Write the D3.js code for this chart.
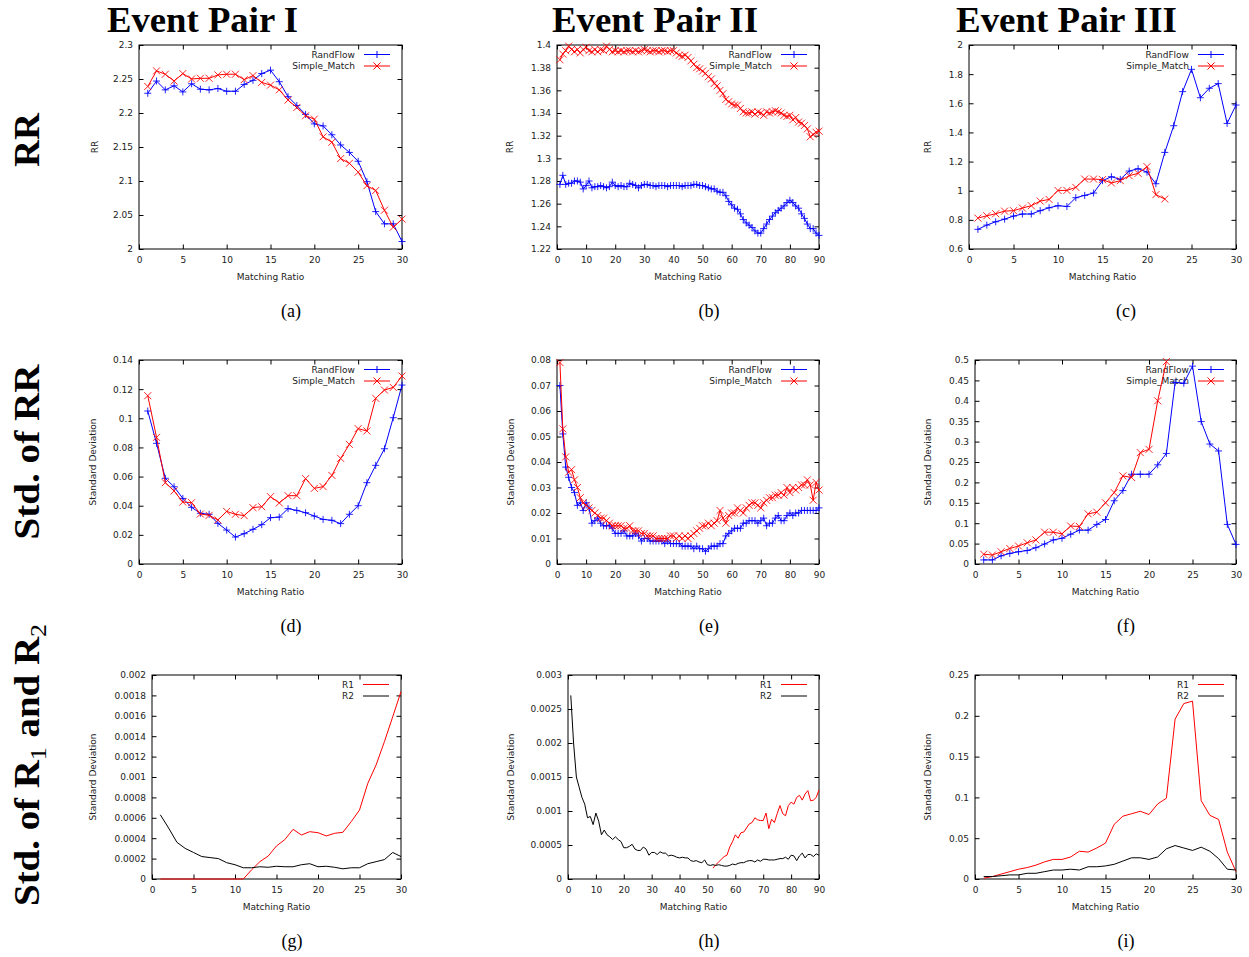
<!DOCTYPE html>
<html>
<head>
<meta charset="utf-8">
<script src="https://cdn.jsdelivr.net/npm/d3@7"></script>
<style>
  body { margin: 0; background: #fff; }
</style>
</head>
<body>
<div id="container"></div>
<script>
/* DATA */

// matching ratios (x values)
const ratio30 = d3.range(1, 31)
const ratio22 = d3.range(1, 23)
const ratio90 = d3.range(1, 91)
const ratio52to90 = d3.range(52, 91)

// RR, Event Pair I
const rrRandFlowI = [2.229, 2.247, 2.234, 2.240, 2.231, 2.243, 2.235, 2.234, 2.236, 2.232,
  2.232, 2.242, 2.248, 2.258, 2.263, 2.246, 2.224, 2.211, 2.198, 2.184,
  2.181, 2.168, 2.153, 2.142, 2.129, 2.099, 2.055, 2.037, 2.037, 2.011]
const rrSimpleI = [2.239, 2.262, 2.257, 2.247, 2.258, 2.250, 2.251, 2.251, 2.256, 2.257,
  2.257, 2.249, 2.255, 2.245, 2.241, 2.234, 2.219, 2.208, 2.196, 2.191,
  2.165, 2.157, 2.133, 2.126, 2.113, 2.093, 2.086, 2.057, 2.032, 2.044]

// RR, Event Pair II
const rrRandFlowII = [1.277, 1.285, 1.277, 1.278, 1.278, 1.280, 1.280, 1.279, 1.273, 1.276,
  1.280, 1.274, 1.275, 1.275, 1.276, 1.275, 1.274, 1.275, 1.279, 1.276,
  1.275, 1.276, 1.275, 1.275, 1.278, 1.277, 1.276, 1.274, 1.276, 1.277,
  1.277, 1.276, 1.276, 1.275, 1.276, 1.276, 1.276, 1.275, 1.276, 1.276,
  1.276, 1.276, 1.275, 1.276, 1.276, 1.276, 1.277, 1.277, 1.276, 1.276,
  1.275, 1.274, 1.273, 1.273, 1.271, 1.270, 1.270, 1.267, 1.262, 1.259,
  1.256, 1.255, 1.251, 1.246, 1.243, 1.241, 1.239, 1.236, 1.234, 1.234,
  1.238, 1.242, 1.246, 1.249, 1.252, 1.254, 1.256, 1.258, 1.261, 1.263,
  1.261, 1.258, 1.256, 1.251, 1.247, 1.242, 1.238, 1.238, 1.234, 1.232]
const rrSimpleII = [1.387, 1.392, 1.395, 1.399, 1.396, 1.394, 1.396, 1.393, 1.396, 1.398,
  1.395, 1.394, 1.396, 1.394, 1.396, 1.395, 1.399, 1.396, 1.394, 1.395,
  1.394, 1.395, 1.394, 1.395, 1.395, 1.394, 1.395, 1.394, 1.395, 1.396,
  1.395, 1.394, 1.395, 1.395, 1.394, 1.395, 1.395, 1.394, 1.395, 1.395,
  1.393, 1.391, 1.390, 1.391, 1.389, 1.386, 1.383, 1.380, 1.379, 1.377,
  1.375, 1.372, 1.370, 1.366, 1.364, 1.360, 1.357, 1.352, 1.350, 1.348,
  1.347, 1.347, 1.344, 1.341, 1.340, 1.340, 1.341, 1.339, 1.341, 1.340,
  1.338, 1.341, 1.340, 1.341, 1.342, 1.341, 1.340, 1.338, 1.337, 1.338,
  1.334, 1.336, 1.332, 1.331, 1.329, 1.326, 1.319, 1.321, 1.323, 1.324]

// RR, Event Pair III
const rrRandFlowIII = [0.735, 0.764, 0.787, 0.805, 0.826, 0.840, 0.840, 0.863, 0.883, 0.897,
  0.892, 0.952, 0.968, 0.984, 1.069, 1.096, 1.078, 1.135, 1.151, 1.128,
  1.048, 1.263, 1.446, 1.680, 1.833, 1.638, 1.703, 1.735, 1.462, 1.588]
const rrSimpleIII = [0.812, 0.828, 0.842, 0.860, 0.863, 0.881, 0.897, 0.929, 0.940, 1.002,
  1.002, 1.023, 1.080, 1.080, 1.076, 1.053, 1.069, 1.103, 1.119, 1.165,
  0.973, 0.943]

// Std. of RR, Event Pair I
const sdRandFlowI = [0.105, 0.0828, 0.0588, 0.053, 0.045, 0.0389, 0.0348, 0.0341, 0.0279, 0.0233,
  0.0185, 0.0208, 0.0238, 0.027, 0.0318, 0.0322, 0.038, 0.0368, 0.0352, 0.0329,
  0.0306, 0.030, 0.0277, 0.0341, 0.040, 0.0558, 0.0677, 0.0791, 0.1004, 0.1228]
const sdSimpleI = [0.1155, 0.0869, 0.0558, 0.0501, 0.0425, 0.0421, 0.0343, 0.0334, 0.0302, 0.0361,
  0.0341, 0.0332, 0.0387, 0.0393, 0.0462, 0.0419, 0.0469, 0.0469, 0.0586, 0.0519,
  0.0531, 0.0608, 0.0725, 0.0821, 0.0929, 0.0913, 0.1137, 0.1194, 0.1212, 0.129]

// Std. of RR, Event Pair II
const sdRandFlowII = [0.070, 0.051, 0.038, 0.034, 0.030, 0.028, 0.023, 0.024, 0.021, 0.024,
  0.022, 0.016, 0.017, 0.018, 0.016, 0.015, 0.015, 0.015, 0.014, 0.012,
  0.012, 0.012, 0.013, 0.011, 0.011, 0.011, 0.012, 0.011, 0.009, 0.010,
  0.010, 0.009, 0.009, 0.009, 0.009, 0.009, 0.008, 0.009, 0.008, 0.008,
  0.008, 0.008, 0.007, 0.007, 0.007, 0.007, 0.006, 0.007, 0.006, 0.006,
  0.005, 0.006, 0.007, 0.007, 0.007, 0.008, 0.008, 0.011, 0.012, 0.013,
  0.014, 0.014, 0.014, 0.016, 0.016, 0.017, 0.017, 0.017, 0.016, 0.017,
  0.018, 0.015, 0.016, 0.016, 0.018, 0.019, 0.017, 0.017, 0.019, 0.020,
  0.019, 0.020, 0.020, 0.021, 0.021, 0.021, 0.021, 0.021, 0.021, 0.022]
const sdSimpleII = [0.079, 0.053, 0.042, 0.036, 0.037, 0.033, 0.030, 0.026, 0.024, 0.023,
  0.022, 0.021, 0.020, 0.019, 0.018, 0.018, 0.017, 0.016, 0.015, 0.015,
  0.015, 0.015, 0.014, 0.014, 0.015, 0.013, 0.013, 0.013, 0.012, 0.012,
  0.011, 0.011, 0.011, 0.010, 0.010, 0.010, 0.010, 0.010, 0.011, 0.011,
  0.010, 0.011, 0.010, 0.011, 0.010, 0.011, 0.012, 0.013, 0.014, 0.015,
  0.015, 0.016, 0.015, 0.016, 0.017, 0.021, 0.018, 0.016, 0.019, 0.020,
  0.020, 0.022, 0.021, 0.020, 0.022, 0.023, 0.024, 0.024, 0.023, 0.022,
  0.024, 0.025, 0.026, 0.026, 0.027, 0.027, 0.028, 0.027, 0.030, 0.028,
  0.030, 0.029, 0.030, 0.031, 0.031, 0.033, 0.031, 0.025, 0.032, 0.029]

// Std. of RR, Event Pair III
const sdRandFlowIII = [0.010, 0.010, 0.020, 0.026, 0.030, 0.033, 0.040, 0.049, 0.059, 0.063,
  0.073, 0.083, 0.083, 0.097, 0.109, 0.155, 0.180, 0.220, 0.220, 0.220,
  0.243, 0.271, 0.445, 0.443, 0.485, 0.349, 0.294, 0.277, 0.097, 0.048]
const sdSimpleIII = [0.024, 0.022, 0.030, 0.038, 0.044, 0.052, 0.059, 0.078, 0.078, 0.074,
  0.093, 0.092, 0.123, 0.127, 0.150, 0.175, 0.216, 0.212, 0.273, 0.281,
  0.400, 0.496]

// Std. of R1 and R2, Event Pair I
const r1I = [0, 0, 0, 0, 0, 0, 0, 0, 0, 0,
  0, 0.00009, 0.00017, 0.000225, 0.000324, 0.000386, 0.000487, 0.000431, 0.000464, 0.000454,
  0.000422, 0.000448, 0.000458, 0.000562, 0.000676, 0.000938, 0.001118, 0.001346, 0.00159, 0.001837]
const r2I = [0.00063, 0.0005, 0.00036, 0.0003, 0.00026, 0.00022, 0.00021, 0.0002, 0.00016, 0.00014,
  0.00011, 0.00011, 0.00012, 0.000115, 0.000125, 0.00012, 0.00012, 0.00014, 0.00015, 0.00012,
  0.000125, 0.000115, 0.0001, 0.00011, 0.00011, 0.00015, 0.00017, 0.00019, 0.00026, 0.00022]

// Std. of R1 and R2, Event Pair II
const r1II = [0.00016, 0.00021, 0.00025, 0.00029, 0.00033, 0.00035, 0.00047, 0.00055, 0.00065, 0.0006,
  0.00068, 0.00069, 0.00075, 0.00081, 0.00083, 0.0009, 0.00087, 0.00086, 0.00086, 0.00097,
  0.00074, 0.00088, 0.00083, 0.00096, 0.00108, 0.00096, 0.00093, 0.00108, 0.00113, 0.0011,
  0.0012, 0.00123, 0.00116, 0.00125, 0.0013, 0.00115, 0.00116, 0.0012, 0.00131]
const r2II = [0.0027, 0.0020, 0.0015, 0.00135, 0.0012, 0.0011, 0.0009, 0.00092, 0.0008, 0.00097,
  0.00085, 0.00065, 0.00072, 0.00065, 0.00062, 0.00058, 0.00062, 0.00058, 0.00055, 0.00046,
  0.00046, 0.00048, 0.00051, 0.00044, 0.00042, 0.00042, 0.00047, 0.00044, 0.00035, 0.00039,
  0.00039, 0.00036, 0.0004, 0.00038, 0.00038, 0.00034, 0.00035, 0.00034, 0.00032, 0.00031,
  0.00032, 0.00031, 0.00031, 0.00027, 0.00026, 0.00027, 0.00025, 0.00024, 0.00028, 0.00021,
  0.0002, 0.00021, 0.0002, 0.00021, 0.0002, 0.00019, 0.00019, 0.0002, 0.00022, 0.00021,
  0.00023, 0.00024, 0.00024, 0.00026, 0.00027, 0.00027, 0.00025, 0.00028, 0.00026, 0.00029,
  0.00029, 0.00028, 0.00028, 0.00028, 0.00029, 0.0003, 0.0003, 0.00032, 0.00029, 0.00035,
  0.00034, 0.00027, 0.00034, 0.00038, 0.00031, 0.00036, 0.00036, 0.00033, 0.00037, 0.00035]

// Std. of R1 and R2, Event Pair III
const r1III = [0.001, 0.003, 0.006, 0.009, 0.012, 0.014, 0.017, 0.021, 0.024, 0.024,
  0.027, 0.034, 0.033, 0.038, 0.044, 0.067, 0.077, 0.080, 0.083, 0.079,
  0.092, 0.099, 0.196, 0.215, 0.218, 0.096, 0.078, 0.073, 0.033, 0.009]
const r2III = [0.003, 0.003, 0.004, 0.005, 0.005, 0.007, 0.007, 0.009, 0.011, 0.011,
  0.012, 0.011, 0.015, 0.015, 0.016, 0.018, 0.022, 0.026, 0.026, 0.024,
  0.027, 0.037, 0.041, 0.038, 0.035, 0.039, 0.034, 0.025, 0.012, 0.011]

// tick values
const xTicks30 = [0, 5, 10, 15, 20, 25, 30]
const xTicks90 = [0, 10, 20, 30, 40, 50, 60, 70, 80, 90]
const rrTicksI = [2, 2.05, 2.1, 2.15, 2.2, 2.25, 2.3]
const rrTicksII = [1.22, 1.24, 1.26, 1.28, 1.3, 1.32, 1.34, 1.36, 1.38, 1.4]
const rrTicksIII = [0.6, 0.8, 1, 1.2, 1.4, 1.6, 1.8, 2]
const sdTicksI = [0, 0.02, 0.04, 0.06, 0.08, 0.1, 0.12, 0.14]
const sdTicksII = [0, 0.01, 0.02, 0.03, 0.04, 0.05, 0.06, 0.07, 0.08]
const sdTicksIII = [0, 0.05, 0.1, 0.15, 0.2, 0.25, 0.3, 0.35, 0.4, 0.45, 0.5]
const rTicksI = [0, 0.0002, 0.0004, 0.0006, 0.0008, 0.001, 0.0012, 0.0014, 0.0016, 0.0018, 0.002]
const rTicksII = [0, 0.0005, 0.001, 0.0015, 0.002, 0.0025, 0.003]
const rTicksIII = [0, 0.05, 0.1, 0.15, 0.2, 0.25]

// titles / labels
const columnTitles = ["Event Pair I", "Event Pair II", "Event Pair III"]
const captions = ["(a)", "(b)", "(c)", "(d)", "(e)", "(f)", "(g)", "(h)", "(i)"]

/* CONSTANTS */
const width = 1249, height = 957
const BLUE = "#0000ff", RED = "#ff0000", BLACK = "#000000"
const sans = "'DejaVu Sans', sans-serif"
const serif = "'Liberation Serif', 'Times New Roman', serif"

const rf = (x, y) => ({ name: "RandFlow", x, y, color: BLUE, marker: "plus" })
const sm = (x, y) => ({ name: "Simple_Match", x, y, color: RED, marker: "cross" })
const rA = (x, y) => ({ name: "R1", x, y, color: RED, marker: null })
const rB = (x, y) => ({ name: "R2", x, y, color: BLACK, marker: null })

// plot rectangles in page pixels
const panels = [
  { box: [139, 45, 402, 249], lx: 95, cx: 291, cy: 317, xd: [0, 30], xt: xTicks30, yd: [2, 2.3], yt: rrTicksI, yl: "RR",
    series: [rf(ratio30, rrRandFlowI), sm(ratio30, rrSimpleI)] },
  { box: [557, 45, 819, 249], lx: 510, cx: 709, cy: 317, xd: [0, 90], xt: xTicks90, yd: [1.22, 1.4], yt: rrTicksII, yl: "RR",
    series: [rf(ratio90, rrRandFlowII), sm(ratio90, rrSimpleII)] },
  { box: [969, 45, 1236, 249], lx: 928, cx: 1126, cy: 317, xd: [0, 30], xt: xTicks30, yd: [0.6, 2], yt: rrTicksIII, yl: "RR",
    series: [rf(ratio30, rrRandFlowIII), sm(ratio22, rrSimpleIII)] },
  { box: [139, 360, 402, 564], lx: 93, cx: 291, cy: 632, xd: [0, 30], xt: xTicks30, yd: [0, 0.14], yt: sdTicksI, yl: "Standard Deviation",
    series: [rf(ratio30, sdRandFlowI), sm(ratio30, sdSimpleI)] },
  { box: [557, 360, 819, 564], lx: 511, cx: 709, cy: 632, xd: [0, 90], xt: xTicks90, yd: [0, 0.08], yt: sdTicksII, yl: "Standard Deviation",
    series: [rf(ratio90, sdRandFlowII), sm(ratio90, sdSimpleII)] },
  { box: [975, 360, 1236, 564], lx: 928, cx: 1126, cy: 632, xd: [0, 30], xt: xTicks30, yd: [0, 0.5], yt: sdTicksIII, yl: "Standard Deviation",
    series: [rf(ratio30, sdRandFlowIII), sm(ratio22, sdSimpleIII)] },
  { box: [152, 675, 401, 879], lx: 93, cx: 292, cy: 947, xd: [0, 30], xt: xTicks30, yd: [0, 0.002], yt: rTicksI, yl: "Standard Deviation",
    series: [rA(ratio30, r1I), rB(ratio30, r2I)] },
  { box: [568, 675, 819, 879], lx: 511, cx: 709, cy: 947, xd: [0, 90], xt: xTicks90, yd: [0, 0.003], yt: rTicksII, yl: "Standard Deviation",
    series: [rA(ratio52to90, r1II), rB(ratio90, r2II)] },
  { box: [975, 675, 1236, 879], lx: 928, cx: 1126, cy: 947, xd: [0, 30], xt: xTicks30, yd: [0, 0.25], yt: rTicksIII, yl: "Standard Deviation",
    series: [rA(ratio30, r1III), rB(ratio30, r2III)] }
]

/* SVG */
const svg = d3.select("#container")
  .append("svg")
  .attr("width", width)
  .attr("height", height)
  .style("display", "block")

svg.append("rect").attr("width", width).attr("height", height).attr("fill", "#fff")

// marker shapes
function markerPath(type, x, y) {
  const s = 3.5
  if (type === "plus") return `M${x - s},${y}h${2 * s}M${x},${y - s}v${2 * s}`
  return `M${x - s},${y - s}l${2 * s},${2 * s}M${x - s},${y + s}l${2 * s},${-2 * s}`
}

const fmt = d => String(d)

panels.forEach((p, i) => {
  const [x0, y0, x1, y1] = p.box
  const xScale = d3.scaleLinear().domain(p.xd).range([x0, x1])
  const yScale = d3.scaleLinear().domain(p.yd).range([y1, y0])
  const g = svg.append("g")

  // axes with inward ticks (mirrored on top and right)
  const tk = 4.5
  const styleAxis = sel => {
    sel.select(".domain").remove()
    sel.selectAll("line").attr("stroke", "#000")
    sel.selectAll("text").attr("fill", "#222").attr("font-family", sans).attr("font-size", 9)
  }
  g.append("g").attr("transform", `translate(0,${y1})`)
    .call(d3.axisBottom(xScale).tickValues(p.xt).tickFormat(fmt).tickSizeInner(-tk).tickSizeOuter(0).tickPadding(8))
    .call(styleAxis)
  g.append("g").attr("transform", `translate(0,${y0})`)
    .call(d3.axisTop(xScale).tickValues(p.xt).tickFormat("").tickSizeInner(-tk).tickSizeOuter(0))
    .call(styleAxis)
  g.append("g").attr("transform", `translate(${x0},0)`)
    .call(d3.axisLeft(yScale).tickValues(p.yt).tickFormat(fmt).tickSizeInner(-tk).tickSizeOuter(0).tickPadding(6))
    .call(styleAxis)
  g.append("g").attr("transform", `translate(${x1},0)`)
    .call(d3.axisRight(yScale).tickValues(p.yt).tickFormat("").tickSizeInner(-tk).tickSizeOuter(0))
    .call(styleAxis)

  g.append("rect")
    .attr("x", x0).attr("y", y0)
    .attr("width", x1 - x0).attr("height", y1 - y0)
    .attr("fill", "none").attr("stroke", "#000").attr("stroke-width", 1)

  // axis titles
  g.append("text")
    .attr("x", (x0 + x1) / 2).attr("y", y1 + 31)
    .attr("text-anchor", "middle")
    .attr("font-family", sans).attr("font-size", 9).attr("fill", "#222")
    .text("Matching Ratio")
  g.append("text")
    .attr("transform", `translate(${p.lx},${(y0 + y1) / 2}) rotate(-90)`)
    .attr("text-anchor", "middle").attr("dy", "0.35em")
    .attr("font-family", sans).attr("font-size", 9).attr("fill", "#222")
    .text(p.yl)

  // legend (drawn before data, like gnuplot)
  p.series.forEach((s, k) => {
    const ly = y0 + 9.5 + k * 11.5
    g.append("text")
      .attr("x", x1 - 47).attr("y", ly).attr("dy", "0.35em")
      .attr("text-anchor", "end")
      .attr("font-family", sans).attr("font-size", 9).attr("fill", "#222")
      .text(s.name)
    g.append("line")
      .attr("x1", x1 - 38).attr("x2", x1 - 12)
      .attr("y1", ly).attr("y2", ly)
      .attr("stroke", s.color).attr("stroke-width", 1)
    if (s.marker) {
      g.append("path").attr("d", markerPath(s.marker, x1 - 25, ly))
        .attr("stroke", s.color).attr("fill", "none")
    }
  })

  // series
  p.series.forEach(s => {
    const pts = s.x.map((x, j) => [x, s.y[j]])
    const line = d3.line().x(d => xScale(d[0])).y(d => yScale(d[1]))
    g.append("path")
      .attr("d", line(pts))
      .attr("fill", "none")
      .attr("stroke", s.color)
      .attr("stroke-width", 1)
      .attr("stroke-linejoin", "round")
    if (s.marker) {
      g.append("path")
        .attr("d", pts.map(d => markerPath(s.marker, xScale(d[0]), yScale(d[1]))).join(""))
        .attr("fill", "none")
        .attr("stroke", s.color)
        .attr("stroke-width", 1)
        .attr("stroke-opacity", 0.85)
    }
  })

  // sub caption
  svg.append("text")
    .attr("x", p.cx).attr("y", p.cy)
    .attr("text-anchor", "middle")
    .attr("font-family", serif).attr("font-size", 18)
    .text(captions[i])
})

/* COLUMN TITLES */
const titleSpots = [[107, 191], [552, 206], [956, 221]]
columnTitles.forEach((t, i) => {
  svg.append("text")
    .attr("x", titleSpots[i][0]).attr("y", 32)
    .attr("font-family", serif).attr("font-weight", "bold").attr("font-size", 36)
    .attr("textLength", titleSpots[i][1]).attr("lengthAdjust", "spacingAndGlyphs")
    .text(t)
})

/* ROW LABELS */
const rowLabel = (cy, len, parts) => {
  const t = svg.append("text")
    .attr("transform", `translate(39,${cy}) rotate(-90)`)
    .attr("text-anchor", "middle")
    .attr("font-family", serif).attr("font-weight", "bold").attr("font-size", 36)
    .attr("textLength", len).attr("lengthAdjust", "spacingAndGlyphs")
  parts.forEach(pt => {
    const ts = t.append("tspan").text(pt.t)
    if (pt.sub) ts.attr("font-size", 24).attr("font-weight", "normal").attr("dy", 7)
    else if (pt.back) ts.attr("dy", -7)
  })
}
rowLabel(140, 54, [{ t: "RR" }])
rowLabel(452, 175, [{ t: "Std. of RR" }])
rowLabel(765, 282, [{ t: "Std. of R" }, { t: "1", sub: true }, { t: " and R", back: true }, { t: "2", sub: true }])
</script>
</body>
</html>
